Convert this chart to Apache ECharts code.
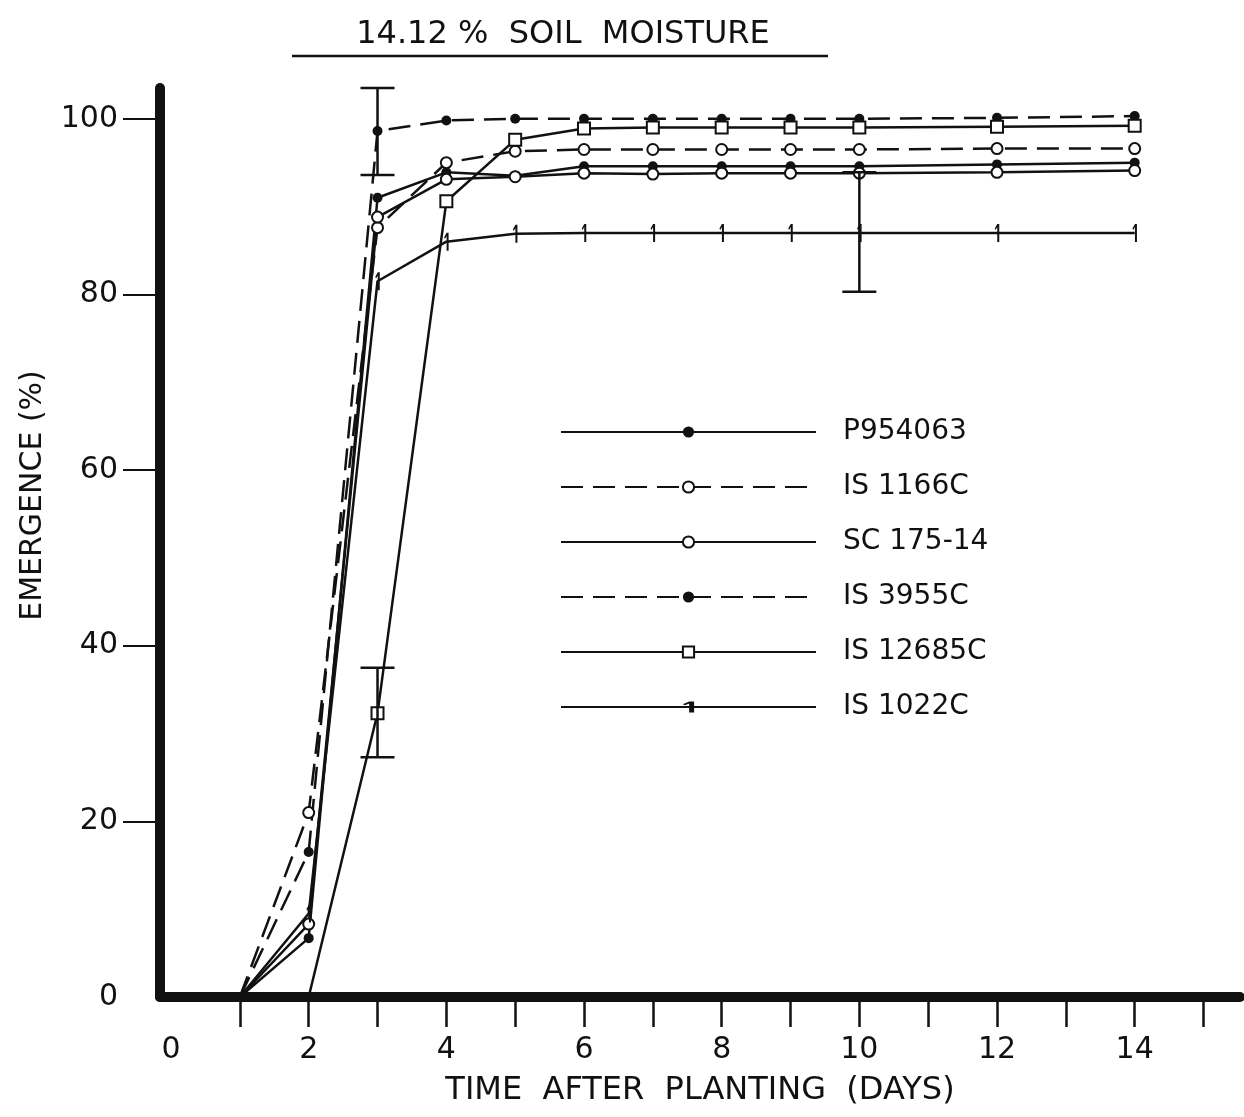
<!DOCTYPE html>
<html><head><meta charset="utf-8">
<script src="https://cdn.jsdelivr.net/npm/echarts@6/dist/echarts.min.js"></script>
<style>html,body{margin:0;padding:0;background:#fff}#c{width:1244px;height:1117px}</style>
</head><body><div id="c"></div>
<script>
// ---- data ----
const days = [1, 2, 3, 4, 5, 6, 7, 8, 9, 10, 12, 14];
const p954063  = [0, 6.7, 91, 93.9, 93.5, 94.6, 94.6, 94.6, 94.6, 94.6, 94.8, 95];
const is1166c  = [0, 21, 87.6, 95, 96.3, 96.5, 96.5, 96.5, 96.5, 96.5, 96.6, 96.6];
const sc17514  = [0, 8.3, 88.8, 93.1, 93.4, 93.8, 93.7, 93.8, 93.8, 93.8, 93.9, 94.1];
const is3955c  = [0, 16.5, 98.6, 99.8, 100, 100, 100, 100, 100, 100, 100.1, 100.3];
const is12685c = [null, 0, 32.3, 90.6, 97.6, 98.9, 99, 99, 99, 99, 99.1, 99.2];
const is1022c  = [0, 9.5, 81.5, 86, 86.9, 87, 87, 87, 87, 87, 87, 87];
const errDays = [3, 3, 10];
const errLow  = [93.6, 27.3, 80.3];
const errHigh = [103.5, 37.5, 93.9];
const xTickValues  = [1, 2, 3, 4, 5, 6, 7, 8, 9, 10, 11, 12, 13, 14, 15];
const xLabelValues = [0, 2, 4, 6, 8, 10, 12, 14];
const yTickValues  = [20, 40, 60, 80, 100];
const yLabelValues = [0, 20, 40, 60, 80, 100];

const INK = '#111';
const FONT = 'DejaVu Sans';
const onePath = 'path://M5,0 L9,0 L9,18 L5,18 Z M5,0 L0,4.5 L1.6,6.2 L5,3.2 Z';

function pts(vals) {
  const out = [];
  vals.forEach((v, i) => {
    if (v === null) return;
    if (v === 0) out.push({ value: [days[i], v], symbol: 'none' });
    else out.push([days[i], v]);
  });
  return out;
}
function lineSeries(name, vals, dashed, symbol, size) {
  const empty = symbol.startsWith('empty');
  return {
    name, type: 'line', data: pts(vals),
    symbol, symbolSize: size, showSymbol: true,
    lineStyle: { color: INK, width: 2.5, type: dashed ? [22, 10] : 'solid' },
    itemStyle: { color: INK, borderColor: INK, borderWidth: empty ? 2.2 : 0 },
    z: 3
  };
}
const errData = errDays.map((d, i) => [d, errLow[i], errHigh[i]]);

const chart = echarts.init(document.getElementById('c'), null, { renderer: 'canvas' });
chart.setOption({
  animation: false,
  backgroundColor: '#fff',
  textStyle: { fontFamily: FONT, color: INK },
  title: {
    text: '14.12 %  SOIL  MOISTURE', left: 558, top: 14, textAlign: 'center',
    textStyle: { fontFamily: FONT, fontSize: 32, fontWeight: 'normal', color: INK }
  },
  graphic: [{
    type: 'line', shape: { x1: 292, y1: 56, x2: 828, y2: 56 },
    style: { stroke: INK, lineWidth: 2.5 }
  }],
  legend: {
    orient: 'vertical', left: 560, top: 418, padding: 0,
    itemWidth: 255, itemHeight: 14, itemGap: 27,
    textStyle: { fontFamily: FONT, fontSize: 28, color: INK, padding: [0, 0, 0, 22] },
    data: ['P954063', 'IS 1166C', 'SC 175-14', 'IS 3955C', 'IS 12685C', 'IS 1022C']
  },
  grid: { left: 160, right: 4, top: 88, bottom: 120, containLabel: false },
  xAxis: {
    type: 'value', min: -0.16, max: 15.53,
    axisLine: { show: true, onZero: false, lineStyle: { color: INK, width: 10 } },
    axisTick: { show: true, customValues: xTickValues, length: 30, lineStyle: { color: INK, width: 2.5 } },
    axisLabel: { customValues: xLabelValues, margin: 38, fontSize: 30, fontFamily: FONT, color: INK },
    splitLine: { show: false },
    name: 'TIME  AFTER  PLANTING  (DAYS)', nameLocation: 'middle', nameGap: 78,
    nameTextStyle: { fontFamily: FONT, fontSize: 32, color: INK }
  },
  yAxis: {
    type: 'value', min: 0, max: 103.5,
    axisLine: { show: true, onZero: false, lineStyle: { color: INK, width: 10 } },
    axisTick: { show: true, customValues: yTickValues, length: 37, lineStyle: { color: INK, width: 2 } },
    axisLabel: { customValues: yLabelValues, margin: 42, fontSize: 30, fontFamily: FONT, color: INK },
    splitLine: { show: false },
    name: 'EMERGENCE (%)', nameLocation: 'middle', nameGap: 112, nameRotate: 90,
    nameTextStyle: { fontFamily: FONT, fontSize: 30, color: INK, padding: [0, 0, 0, 94] }
  },
  series: [
    lineSeries('P954063', p954063, false, 'circle', 10),
    lineSeries('IS 1166C', is1166c, true, 'emptyCircle', 11),
    lineSeries('SC 175-14', sc17514, false, 'emptyCircle', 11),
    lineSeries('IS 3955C', is3955c, true, 'circle', 10),
    lineSeries('IS 12685C', is12685c, false, 'emptyRect', 12),
    Object.assign(lineSeries('IS 1022C', is1022c, false, onePath, [9, 18]), { symbolKeepAspect: true }),
    {
      name: 'error', type: 'custom', data: errData, z: 4,
      renderItem: function (params, api) {
        const x = api.value(0);
        const lo = api.coord([x, api.value(1)]);
        const hi = api.coord([x, api.value(2)]);
        const hw = 17;
        const st = { stroke: INK, lineWidth: 2.5 };
        return { type: 'group', children: [
          { type: 'line', shape: { x1: lo[0], y1: lo[1], x2: hi[0], y2: hi[1] }, style: st },
          { type: 'line', shape: { x1: lo[0] - hw, y1: lo[1], x2: lo[0] + hw, y2: lo[1] }, style: st },
          { type: 'line', shape: { x1: hi[0] - hw, y1: hi[1], x2: hi[0] + hw, y2: hi[1] }, style: st }
        ]};
      }
    }
  ]
});
</script>
</body></html>
